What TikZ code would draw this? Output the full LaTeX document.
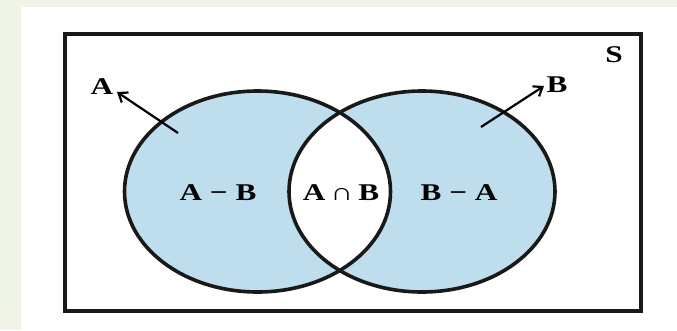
\documentclass[tikz,border=0pt]{standalone}
\usepackage{fontspec}
\setmainfont{Liberation Serif}
\usetikzlibrary{arrows.meta}
\definecolor{venn}{RGB}{190,221,237}
\definecolor{bgg}{RGB}{240,244,231}
\begin{document}
\begin{tikzpicture}[x=1pt,y=-1pt,
  lab/.style={font=\fontsize{24}{24}\selectfont\bfseries, inner sep=0pt, xscale=1.3, transform shape},
  setline/.style={line width=3.6pt, draw=black!90},
  pointer/.style={line width=2.2pt, -{Straight Barb[length=8pt,width=12pt]}}]
\useasboundingbox (0,0) rectangle (677,330);
\fill[bgg] (0,0) rectangle (677,7);
\fill[bgg] (0,0) rectangle (21,330);
\node[draw=black!90, line width=4pt, minimum width=576pt, minimum height=277pt, inner sep=0pt] (S) at (353,172.5) {};
% sets
\fill[venn] (257.5,191.5) ellipse [x radius=133, y radius=100.5];
\fill[venn] (422,191.5) ellipse [x radius=133, y radius=100.5];
\begin{scope}
  \clip (257.5,191.5) ellipse [x radius=133, y radius=100.5];
  \fill[white] (422,191.5) ellipse [x radius=133, y radius=100.5];
\end{scope}
\draw[setline] (257.5,191.5) ellipse [x radius=133, y radius=100.5];
\draw[setline] (422,191.5) ellipse [x radius=133, y radius=100.5];
% labels
\node[lab] (AmB) at (218,193) {A − B};
\node[lab] (AnB) at (341,193) {A\,∩\,B};
\node[lab] (BmA) at (459,193) {B − A};
\node[lab] (Slab) at (614,55) {S};
\node[lab] (Alab) at (102,87) {A};
\node[lab] (Blab) at (557,85) {B};
% pointers
\coordinate (At) at (178,133);
\coordinate (Ah) at (117,92);
\coordinate (Bt) at (481,127);
\coordinate (Bh) at (544,86);
\draw[pointer] (At) -- (Ah);
\draw[pointer] (Bt) -- (Bh);
\end{tikzpicture}
\end{document}
